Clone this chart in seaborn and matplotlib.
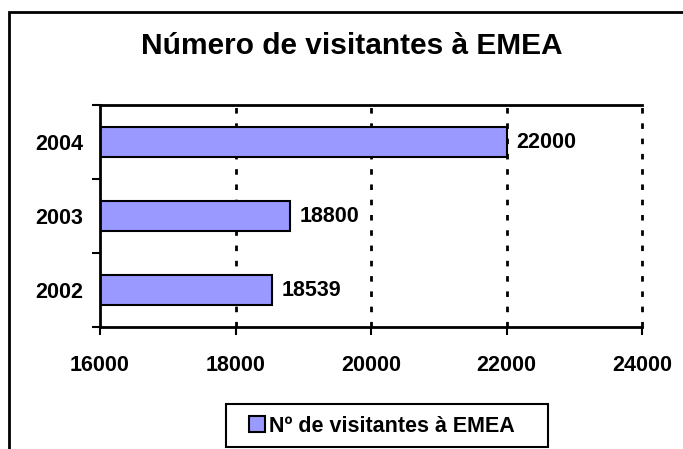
import matplotlib
matplotlib.use("Agg")
import matplotlib.pyplot as plt
import matplotlib.patches as mpatches
from matplotlib.ticker import FixedLocator, NullFormatter
import seaborn as sns
import pandas as pd

years = ["2004", "2003", "2002"]
visitors = [22000, 18800, 18539]
x_ticks = [16000, 18000, 20000, 22000, 24000]
title = "Número de visitantes à EMEA"
series_name = "Nº de visitantes à EMEA"

sns.set_theme(style="white")
plt.rcParams["font.family"] = ["Liberation Sans", "DejaVu Sans"]
plt.rcParams["font.weight"] = "bold"
plt.rcParams["text.color"] = "black"
plt.rcParams["xtick.color"] = "black"
plt.rcParams["ytick.color"] = "black"

df = pd.DataFrame({"year": years, "visitors": visitors})

W, H = 683, 449
FS = 15.5
fig = plt.figure(figsize=(W / 100, H / 100), dpi=100)
fig.patch.set_facecolor("white")
ax = fig.add_axes([100 / W, 1 - 327 / H, (642 - 100) / W, (327 - 105) / H])

sns.barplot(data=df, y="year", x="visitors", order=years, orient="h",
            color="#9999FF", edgecolor="black", linewidth=1.5, width=0.4,
            saturation=1, ax=ax)

ax.set_xlim(16000, 24000)
ax.set_ylim(2.5, -0.5)
ax.set_xlabel("")
ax.set_ylabel("")

# gridlines
for xv in x_ticks[1:]:
    ax.axvline(xv, color="black", linestyle=(0, (2, 3.5)), linewidth=2,
               zorder=0.5, clip_on=False)

for s in ["left", "bottom", "top"]:
    ax.spines[s].set_visible(True)
    ax.spines[s].set_color("black")
    ax.spines[s].set_linewidth(2)
ax.spines["right"].set_visible(False)

ax.set_xticks(x_ticks)
ax.set_xticklabels([str(v) for v in x_ticks], fontsize=FS, fontweight="bold", color="black")
ax.tick_params(axis="x", direction="out", length=6, width=1.5, color="black", pad=14, bottom=True)
ax.tick_params(axis="y", which="major", length=0, pad=12, labelsize=FS, labelcolor="black")
for lab in ax.get_yticklabels():
    lab.set_fontweight("bold")
ax.yaxis.set_minor_locator(FixedLocator([-0.5, 0.5, 1.5, 2.5]))
ax.yaxis.set_minor_formatter(NullFormatter())
ax.tick_params(axis="y", which="minor", direction="out", length=6, width=1.5, color="black", left=True)

for i, v in enumerate(visitors):
    ax.annotate(str(v), xy=(v, i), xytext=(7, 0), textcoords="offset points",
                va="center", ha="left", fontsize=FS, fontweight="bold", color="black")

fig.text(352 / W, 1 - 46 / H, title, ha="center", va="center",
         fontsize=21.5, fontweight="bold", color="black")

handle = mpatches.Patch(facecolor="#9999FF", edgecolor="black", linewidth=1.5)
leg = fig.legend([handle], [series_name], loc="center left",
                 bbox_to_anchor=(249 / W, 1 - 426 / H), frameon=False,
                 prop={"weight": "bold", "size": FS}, handlelength=0.75, handleheight=0.75,
                 handletextpad=0.2, borderpad=0, borderaxespad=0)
for t in leg.get_texts():
    t.set_color("black")

legbox = mpatches.Rectangle((226 / W, 1 - 447 / H), (548 - 226) / W, (447 - 404) / H,
                            transform=fig.transFigure, fill=False, edgecolor="black",
                            linewidth=1.5, clip_on=False)
fig.patches.append(legbox)

frame = mpatches.Rectangle((9 / W, -0.1), 1.2, 1 - 12 / H + 0.1, transform=fig.transFigure,
                           fill=False, edgecolor="black", linewidth=2, clip_on=False)
fig.patches.append(frame)

fig.savefig("out.png", dpi=100, facecolor="white")
